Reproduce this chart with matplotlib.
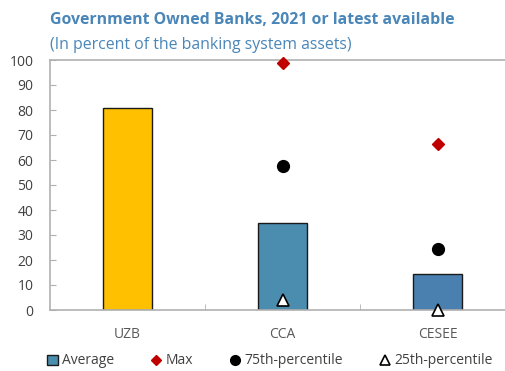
import matplotlib
matplotlib.use("Agg")
import matplotlib.pyplot as plt
from matplotlib.lines import Line2D
from matplotlib.patches import Patch

plt.rcParams['font.family'] = ['Open Sans', 'DejaVu Sans']

categories = ["UZB", "CCA", "CESEE"]
average = [81, 35, 14.5]
max_vals = [None, 99, 66.5]
p75 = [None, 57.5, 24.5]
p25 = [None, 4, 0]
yticks = [0, 10, 20, 30, 40, 50, 60, 70, 80, 90, 100]

bar_colors = ["#FFC000", "#4A8DAE", "#4A80B0"]
title_color = "#4A86B8"
text_color = "#404040"
axis_gray = "#B0B0B0"

W, H = 505, 371
fig = plt.figure(figsize=(W / 100, H / 100), dpi=100)
ax = fig.add_axes([50 / W, 61 / H, 465 / W, 250 / H])

x = list(range(len(categories)))
ax.bar(x, average, width=0.315, color=bar_colors, edgecolor="#1a1a1a",
       linewidth=1.0, zorder=2)

def pts(vals):
    xs = [i for i, v in enumerate(vals) if v is not None]
    ys = [v for v in vals if v is not None]
    return xs, ys

mx, my = pts(max_vals)
ax.plot(mx, my, linestyle="none", marker="D", markersize=6.5,
        color="#C00000", zorder=3, clip_on=False)
px, py = pts(p75)
ax.plot(px, py, linestyle="none", marker="o", markersize=8.5,
        color="black", zorder=3, clip_on=False)
qx, qy = pts(p25)
ax.plot(qx, qy, linestyle="none", marker="^", markersize=8.5,
        markerfacecolor="white", markeredgecolor="black",
        markeredgewidth=1.2, zorder=4, clip_on=False)

ax.set_xlim(-0.5, 2.5)
ax.set_ylim(0, 100)
ax.set_yticks(yticks)
ax.set_yticklabels([str(t) for t in yticks])
ax.set_xticks(x)
ax.set_xticklabels(categories)
ax.set_xticks([0.5, 1.5], minor=True)

for side in ["left", "bottom", "top"]:
    ax.spines[side].set_color(axis_gray)
    ax.spines[side].set_linewidth(1.2)
ax.spines["right"].set_visible(False)

ax.tick_params(axis="y", direction="in", length=4, color=axis_gray,
               labelsize=10, labelcolor=text_color, pad=12)
ax.tick_params(axis="x", which="major", length=0, labelsize=10,
               labelcolor="#595959", pad=12)
ax.tick_params(axis="x", which="minor", direction="in", length=4,
               color=axis_gray)
for lbl in ax.get_yticklabels():
    lbl.set_horizontalalignment("right")

fig.text(50 / W, 1 - 20 / H, "Government Owned Banks, 2021 or latest available",
         fontsize=11.4, fontweight="bold", color=title_color, va="center",
         ha="left")
fig.text(50 / W, 1 - 45 / H, "(In percent of the banking system assets)",
         fontsize=11.4, color=title_color, va="center", ha="left")

handles = [
    Patch(facecolor="#4A8DAE", edgecolor="#1a1a1a", linewidth=1.0),
    Line2D([], [], linestyle="none", marker="D", markersize=5, color="#C00000"),
    Line2D([], [], linestyle="none", marker="o", markersize=7, color="black"),
    Line2D([], [], linestyle="none", marker="^", markersize=7,
           markerfacecolor="white", markeredgecolor="black",
           markeredgewidth=1.2),
]
labels = ["Average", "Max", "75th-percentile", "25th-percentile"]
fig.legend(handles, labels, loc="center", bbox_to_anchor=(270 / W, 1 - 361 / H),
           ncol=4, frameon=False, fontsize=10, handlelength=0.8,
           handletextpad=0.3, columnspacing=2.6, labelcolor=text_color,
           borderpad=0, borderaxespad=0)

fig.savefig("out.png", dpi=100)
